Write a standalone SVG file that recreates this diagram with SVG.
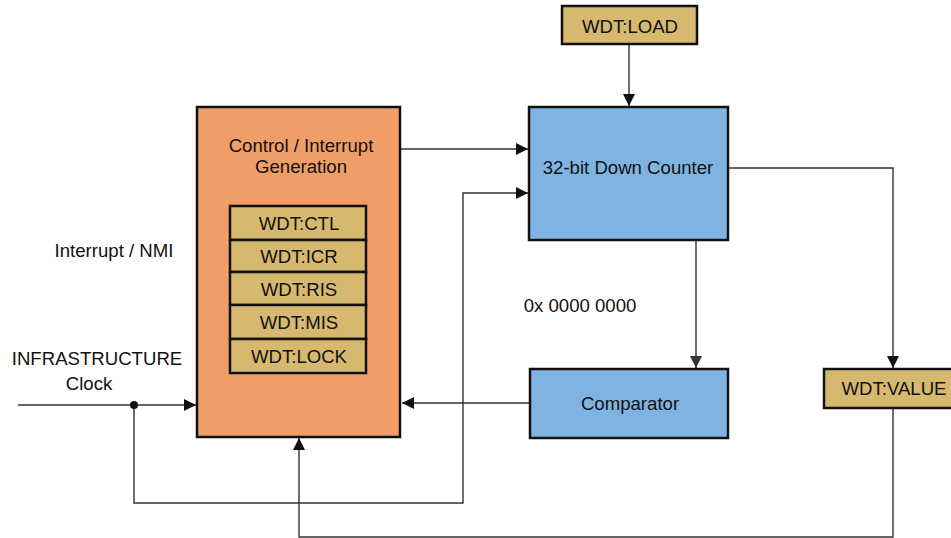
<svg xmlns="http://www.w3.org/2000/svg" width="951" height="538" viewBox="0 0 951 538">
<style>
text{font-family:"Liberation Sans",Arial,sans-serif;font-size:18.6px;fill:#111;text-anchor:middle;dominant-baseline:central}
.box{stroke:#111;stroke-width:2.5}
.ctl{fill:#EF9E68}
.blue{fill:#7FB4E2}
.reg{fill:#D6B86E}
.ln{fill:none;stroke:#333;stroke-width:1.4}
</style>
<defs>
<marker id="ah" markerWidth="12" markerHeight="12" viewBox="0 0 12 12" refX="12" refY="6" orient="auto" markerUnits="userSpaceOnUse">
<path d="M0,0 L12,6 L0,12 z" fill="#111"/>
</marker>
<marker id="ahg" markerWidth="12" markerHeight="12" viewBox="0 0 12 12" refX="12" refY="6" orient="auto" markerUnits="userSpaceOnUse">
<path d="M0,0 L12,6 L0,12 z" fill="#333"/>
</marker>
</defs>
<g id="connectors">
<path class="ln" d="M629,44 V106" marker-end="url(#ah)"/>
<path class="ln" d="M401,149 H528" marker-end="url(#ah)"/>
<path class="ln" d="M18,405 H196" marker-end="url(#ah)"/>
<path class="ln" d="M134,405 V503 H463 V193 H528" marker-end="url(#ah)"/>
<path class="ln" d="M529,403 H402" marker-end="url(#ah)"/>
<path class="ln" d="M696,241 V368" marker-end="url(#ahg)"/>
<path class="ln" d="M729,168 H893 V368" marker-end="url(#ah)"/>
<path class="ln" d="M893,409 V537 H299 V438" marker-end="url(#ah)"/>
<circle cx="134" cy="405" r="4" fill="#111"/>
</g>
<g id="control">
<rect class="box ctl" x="197" y="107" width="203" height="330"/>
<text x="301" y="145">Control / Interrupt</text>
<text x="301" y="166.5">Generation</text>
</g>
<g id="wdt-ctl"><rect class="box reg" x="230" y="206" width="136" height="34"/><text x="299" y="223">WDT:CTL</text></g>
<g id="wdt-icr"><rect class="box reg" x="230" y="240" width="136" height="32"/><text x="299" y="256">WDT:ICR</text></g>
<g id="wdt-ris"><rect class="box reg" x="230" y="272" width="136" height="33"/><text x="299" y="289">WDT:RIS</text></g>
<g id="wdt-mis"><rect class="box reg" x="230" y="305" width="136" height="34"/><text x="299" y="322">WDT:MIS</text></g>
<g id="wdt-lock"><rect class="box reg" x="230" y="339" width="136" height="34"/><text x="299" y="356">WDT:LOCK</text></g>
<g id="wdt-load"><rect class="box reg" x="562" y="6" width="135" height="38"/><text x="630" y="26">WDT:LOAD</text></g>
<g id="counter"><rect class="box blue" x="529" y="107" width="199" height="133"/><text x="628" y="167">32-bit Down Counter</text></g>
<g id="comparator"><rect class="box blue" x="530" y="369" width="198" height="69"/><text x="630" y="403">Comparator</text></g>
<g id="wdt-value"><rect class="box reg" x="824" y="369" width="130" height="39"/><text x="894" y="388">WDT:VALUE</text></g>
<g id="labels">
<text x="114" y="250">Interrupt / NMI</text>
<text x="97" y="358">INFRASTRUCTURE</text>
<text x="89" y="383">Clock</text>
<text x="580" y="305">0x 0000 0000</text>
</g>
</svg>
